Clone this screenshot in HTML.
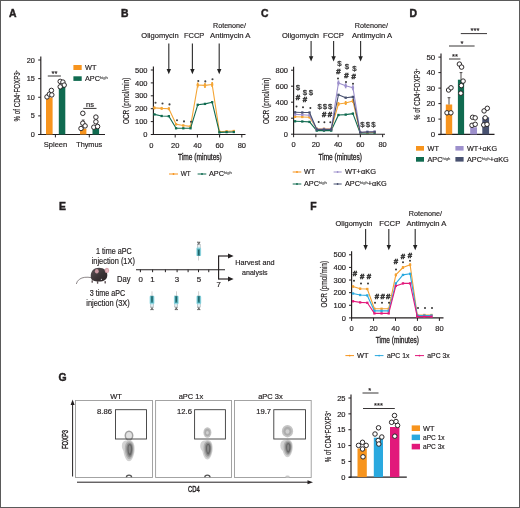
<!DOCTYPE html>
<html><head><meta charset="utf-8"><style>
html,body{margin:0;padding:0;background:#fff;}
body{width:520px;height:508px;overflow:hidden;}
svg{display:block;}
text{font-family:"Liberation Sans", sans-serif;}
</style></head><body>
<svg style="filter:blur(0.25px)" width="520" height="508" viewBox="0 0 520 508" font-family='"Liberation Sans", sans-serif' fill="#231f20">
<rect x="0" y="0" width="520" height="508" fill="#fff"/>
<text x="9.00" y="16.72" font-size="10.4" font-weight="bold" stroke="#231f20" stroke-width="0.45" >A</text>
<line x1="40.80" y1="56.50" x2="40.80" y2="135.00" stroke="#231f20" stroke-width="1.15" />
<line x1="38.20" y1="134.50" x2="40.80" y2="134.50" stroke="#231f20" stroke-width="1" />
<text x="34.80" y="137.11" font-size="7.3" text-anchor="end" stroke="#231f20" stroke-width="0.18" >0</text>
<line x1="38.20" y1="115.88" x2="40.80" y2="115.88" stroke="#231f20" stroke-width="1" />
<text x="34.80" y="118.49" font-size="7.3" text-anchor="end" stroke="#231f20" stroke-width="0.18" >5</text>
<line x1="38.20" y1="97.25" x2="40.80" y2="97.25" stroke="#231f20" stroke-width="1" />
<text x="34.80" y="99.86" font-size="7.3" text-anchor="end" stroke="#231f20" stroke-width="0.18" >10</text>
<line x1="38.20" y1="78.62" x2="40.80" y2="78.62" stroke="#231f20" stroke-width="1" />
<text x="34.80" y="81.24" font-size="7.3" text-anchor="end" stroke="#231f20" stroke-width="0.18" >15</text>
<line x1="38.20" y1="60.00" x2="40.80" y2="60.00" stroke="#231f20" stroke-width="1" />
<text x="34.80" y="62.61" font-size="7.3" text-anchor="end" stroke="#231f20" stroke-width="0.18" >20</text>
<line x1="38.40" y1="134.50" x2="105.00" y2="134.50" stroke="#231f20" stroke-width="1.15" />
<line x1="55.40" y1="134.50" x2="55.40" y2="137.40" stroke="#231f20" stroke-width="1" />
<line x1="89.30" y1="134.50" x2="89.30" y2="137.40" stroke="#231f20" stroke-width="1" />
<text x="17.40" y="98.64" font-size="8.2" text-anchor="middle" textLength="51.50" lengthAdjust="spacingAndGlyphs" stroke="#231f20" stroke-width="0.18" transform="rotate(-90 17.40 95.70)">% of CD4<tspan dy="-2.5" font-size="5">+</tspan><tspan dy="2.5">FOXP3</tspan><tspan dy="-2.5" font-size="5">+</tspan></text>
<rect x="46.00" y="97.50" width="6.60" height="37.00" fill="#f7941d"/>
<rect x="58.80" y="85.00" width="6.50" height="49.50" fill="#106b50"/>
<rect x="80.00" y="128.80" width="6.40" height="5.70" fill="#f7941d"/>
<rect x="92.50" y="128.30" width="6.60" height="6.20" fill="#106b50"/>
<line x1="83.20" y1="120.00" x2="83.20" y2="128.80" stroke="#231f20" stroke-width="0.7" />
<line x1="81.80" y1="120.00" x2="84.60" y2="120.00" stroke="#231f20" stroke-width="0.7" />
<circle cx="47.00" cy="96.90" r="2.25" fill="#fff" stroke="#231f20" stroke-width="0.95"/>
<circle cx="49.40" cy="94.20" r="2.25" fill="#fff" stroke="#231f20" stroke-width="0.95"/>
<circle cx="51.80" cy="94.90" r="2.25" fill="#fff" stroke="#231f20" stroke-width="0.95"/>
<circle cx="51.40" cy="90.40" r="2.25" fill="#fff" stroke="#231f20" stroke-width="0.95"/>
<circle cx="60.20" cy="81.40" r="2.25" fill="#fff" stroke="#231f20" stroke-width="0.95"/>
<circle cx="62.90" cy="82.10" r="2.25" fill="#fff" stroke="#231f20" stroke-width="0.95"/>
<circle cx="64.20" cy="85.10" r="2.25" fill="#fff" stroke="#231f20" stroke-width="0.95"/>
<circle cx="60.20" cy="86.80" r="2.25" fill="#fff" stroke="#231f20" stroke-width="0.95"/>
<circle cx="82.80" cy="113.30" r="2.25" fill="#fff" stroke="#231f20" stroke-width="0.95"/>
<circle cx="82.80" cy="123.20" r="2.25" fill="#fff" stroke="#231f20" stroke-width="0.95"/>
<circle cx="81.00" cy="128.50" r="2.25" fill="#fff" stroke="#231f20" stroke-width="0.95"/>
<circle cx="85.10" cy="125.90" r="2.25" fill="#fff" stroke="#231f20" stroke-width="0.95"/>
<circle cx="95.90" cy="117.10" r="2.25" fill="#fff" stroke="#231f20" stroke-width="0.95"/>
<circle cx="95.90" cy="121.80" r="2.25" fill="#fff" stroke="#231f20" stroke-width="0.95"/>
<circle cx="93.80" cy="127.20" r="2.25" fill="#fff" stroke="#231f20" stroke-width="0.95"/>
<circle cx="97.60" cy="126.50" r="2.25" fill="#fff" stroke="#231f20" stroke-width="0.95"/>
<text x="54.50" y="75.69" font-size="7.5" text-anchor="middle" stroke="#231f20" stroke-width="0.18" >**</text>
<line x1="47.80" y1="76.00" x2="60.90" y2="76.00" stroke="#231f20" stroke-width="0.9" />
<text x="90.00" y="106.98" font-size="7.5" text-anchor="middle" stroke="#231f20" stroke-width="0.18" >ns</text>
<line x1="83.30" y1="108.40" x2="96.50" y2="108.40" stroke="#231f20" stroke-width="0.9" />
<rect x="73.40" y="65.00" width="8.30" height="5.00" fill="#f7941d"/>
<rect x="73.40" y="76.30" width="8.30" height="4.60" fill="#106b50"/>
<text x="85.00" y="70.11" font-size="7.3" stroke="#231f20" stroke-width="0.18" >WT</text>
<text x="85.00" y="81.31" font-size="7.3" stroke="#231f20" stroke-width="0.18" >APC<tspan dy="-2.1" font-size="4.1" fill="#555" stroke="#555">high</tspan></text>
<text x="55.50" y="147.09" font-size="7.8" text-anchor="middle" textLength="23.50" lengthAdjust="spacingAndGlyphs" stroke="#231f20" stroke-width="0.18" >Spleen</text>
<text x="89.20" y="147.09" font-size="7.8" text-anchor="middle" textLength="26.00" lengthAdjust="spacingAndGlyphs" stroke="#231f20" stroke-width="0.18" >Thymus</text>
<text x="121.00" y="17.22" font-size="10.4" font-weight="bold" stroke="#231f20" stroke-width="0.45" >B</text>
<text x="141.30" y="37.56" font-size="7.7" textLength="37.40" lengthAdjust="spacingAndGlyphs" stroke="#231f20" stroke-width="0.18" >Oligomycin</text>
<text x="184.00" y="37.56" font-size="7.7" textLength="20.30" lengthAdjust="spacingAndGlyphs" stroke="#231f20" stroke-width="0.18" >FCCP</text>
<text x="213.00" y="27.56" font-size="7.7" textLength="33.00" lengthAdjust="spacingAndGlyphs" stroke="#231f20" stroke-width="0.18" >Rotenone/</text>
<text x="210.00" y="37.56" font-size="7.7" textLength="40.50" lengthAdjust="spacingAndGlyphs" stroke="#231f20" stroke-width="0.18" >Antimycin A</text>
<line x1="168.80" y1="43.40" x2="168.80" y2="70.30" stroke="#333" stroke-width="1.15" />
<path d="M166.60,69.10 L171.00,69.10 L168.80,74.30 Z" fill="#222"/>
<line x1="192.40" y1="43.40" x2="192.40" y2="70.30" stroke="#333" stroke-width="1.15" />
<path d="M190.20,69.10 L194.60,69.10 L192.40,74.30 Z" fill="#222"/>
<line x1="219.20" y1="43.40" x2="219.20" y2="70.30" stroke="#333" stroke-width="1.15" />
<path d="M217.00,69.10 L221.40,69.10 L219.20,74.30 Z" fill="#222"/>
<line x1="153.40" y1="66.50" x2="153.40" y2="135.00" stroke="#231f20" stroke-width="1.15" />
<line x1="150.80" y1="134.50" x2="153.40" y2="134.50" stroke="#231f20" stroke-width="1" />
<text x="147.50" y="137.19" font-size="7.5" text-anchor="end" stroke="#231f20" stroke-width="0.18" >0</text>
<line x1="150.80" y1="121.60" x2="153.40" y2="121.60" stroke="#231f20" stroke-width="1" />
<text x="147.50" y="124.28" font-size="7.5" text-anchor="end" stroke="#231f20" stroke-width="0.18" >100</text>
<line x1="150.80" y1="108.70" x2="153.40" y2="108.70" stroke="#231f20" stroke-width="1" />
<text x="147.50" y="111.39" font-size="7.5" text-anchor="end" stroke="#231f20" stroke-width="0.18" >200</text>
<line x1="150.80" y1="95.80" x2="153.40" y2="95.80" stroke="#231f20" stroke-width="1" />
<text x="147.50" y="98.48" font-size="7.5" text-anchor="end" stroke="#231f20" stroke-width="0.18" >300</text>
<line x1="150.80" y1="82.90" x2="153.40" y2="82.90" stroke="#231f20" stroke-width="1" />
<text x="147.50" y="85.59" font-size="7.5" text-anchor="end" stroke="#231f20" stroke-width="0.18" >400</text>
<line x1="150.80" y1="70.00" x2="153.40" y2="70.00" stroke="#231f20" stroke-width="1" />
<text x="147.50" y="72.69" font-size="7.5" text-anchor="end" stroke="#231f20" stroke-width="0.18" >500</text>
<line x1="152.90" y1="134.50" x2="245.50" y2="134.50" stroke="#231f20" stroke-width="1.15" />
<line x1="175.20" y1="134.50" x2="175.20" y2="137.50" stroke="#231f20" stroke-width="1" />
<text x="175.20" y="147.69" font-size="7.5" text-anchor="middle" stroke="#231f20" stroke-width="0.18" >20</text>
<line x1="197.40" y1="134.50" x2="197.40" y2="137.50" stroke="#231f20" stroke-width="1" />
<text x="197.40" y="147.69" font-size="7.5" text-anchor="middle" stroke="#231f20" stroke-width="0.18" >40</text>
<line x1="219.60" y1="134.50" x2="219.60" y2="137.50" stroke="#231f20" stroke-width="1" />
<text x="219.60" y="147.69" font-size="7.5" text-anchor="middle" stroke="#231f20" stroke-width="0.18" >60</text>
<line x1="241.80" y1="134.50" x2="241.80" y2="137.50" stroke="#231f20" stroke-width="1" />
<text x="241.80" y="147.69" font-size="7.5" text-anchor="middle" stroke="#231f20" stroke-width="0.18" >80</text>
<text x="151.30" y="147.69" font-size="7.5" text-anchor="middle" stroke="#231f20" stroke-width="0.18" >0</text>
<text x="178.10" y="159.64" font-size="8.69" textLength="43.70" lengthAdjust="spacingAndGlyphs" stroke="#231f20" stroke-width="0.32" >Time (minutes)</text>
<text x="125.30" y="104.17" font-size="9.4" text-anchor="middle" textLength="46.50" lengthAdjust="spacingAndGlyphs" stroke="#231f20" stroke-width="0.18" transform="rotate(-90 125.30 100.80)">OCR (pmol/min)</text>
<line x1="154.44" y1="106.40" x2="154.44" y2="109.40" stroke="#f4a535" stroke-width="1.6"/>
<line x1="161.66" y1="106.90" x2="161.66" y2="109.90" stroke="#f4a535" stroke-width="1.6"/>
<line x1="168.87" y1="107.20" x2="168.87" y2="110.20" stroke="#f4a535" stroke-width="1.6"/>
<line x1="176.09" y1="123.30" x2="176.09" y2="125.30" stroke="#f4a535" stroke-width="1.6"/>
<line x1="183.30" y1="124.50" x2="183.30" y2="126.50" stroke="#f4a535" stroke-width="1.6"/>
<line x1="190.52" y1="125.40" x2="190.52" y2="127.40" stroke="#f4a535" stroke-width="1.6"/>
<line x1="197.73" y1="82.50" x2="197.73" y2="87.50" stroke="#f4a535" stroke-width="1.6"/>
<line x1="204.95" y1="82.90" x2="204.95" y2="87.90" stroke="#f4a535" stroke-width="1.6"/>
<line x1="212.16" y1="82.00" x2="212.16" y2="87.00" stroke="#f4a535" stroke-width="1.6"/>
<polyline points="154.44,107.90 161.66,108.40 168.87,108.70 176.09,124.30 183.30,125.50 190.52,126.40 197.73,85.00 204.95,85.40 212.16,84.50 219.38,131.70 226.59,131.20 233.81,131.00" fill="none" stroke="#f4a535" stroke-width="1.1" stroke-linejoin="round"/>
<rect x="153.29" y="106.75" width="2.30" height="2.30" fill="#f4a535"/>
<rect x="160.51" y="107.25" width="2.30" height="2.30" fill="#f4a535"/>
<rect x="167.72" y="107.55" width="2.30" height="2.30" fill="#f4a535"/>
<rect x="174.94" y="123.15" width="2.30" height="2.30" fill="#f4a535"/>
<rect x="182.15" y="124.35" width="2.30" height="2.30" fill="#f4a535"/>
<rect x="189.37" y="125.25" width="2.30" height="2.30" fill="#f4a535"/>
<rect x="196.58" y="83.85" width="2.30" height="2.30" fill="#f4a535"/>
<rect x="203.80" y="84.25" width="2.30" height="2.30" fill="#f4a535"/>
<rect x="211.01" y="83.35" width="2.30" height="2.30" fill="#f4a535"/>
<rect x="218.23" y="130.55" width="2.30" height="2.30" fill="#f4a535"/>
<rect x="225.44" y="130.05" width="2.30" height="2.30" fill="#f4a535"/>
<rect x="232.66" y="129.85" width="2.30" height="2.30" fill="#f4a535"/>
<polyline points="154.44,114.40 161.66,116.00 168.87,116.20 176.09,128.30 183.30,128.30 190.52,128.30 197.73,104.80 204.95,103.90 212.16,102.20 219.38,132.40 226.59,132.10 233.81,132.00" fill="none" stroke="#106b50" stroke-width="1.1" stroke-linejoin="round"/>
<rect x="153.29" y="113.25" width="2.30" height="2.30" fill="#106b50"/>
<rect x="160.51" y="114.85" width="2.30" height="2.30" fill="#106b50"/>
<rect x="167.72" y="115.05" width="2.30" height="2.30" fill="#106b50"/>
<rect x="174.94" y="127.15" width="2.30" height="2.30" fill="#106b50"/>
<rect x="182.15" y="127.15" width="2.30" height="2.30" fill="#106b50"/>
<rect x="189.37" y="127.15" width="2.30" height="2.30" fill="#106b50"/>
<rect x="196.58" y="103.65" width="2.30" height="2.30" fill="#106b50"/>
<rect x="203.80" y="102.75" width="2.30" height="2.30" fill="#106b50"/>
<rect x="211.01" y="101.05" width="2.30" height="2.30" fill="#106b50"/>
<rect x="218.23" y="131.25" width="2.30" height="2.30" fill="#106b50"/>
<rect x="225.44" y="130.95" width="2.30" height="2.30" fill="#106b50"/>
<rect x="232.66" y="130.85" width="2.30" height="2.30" fill="#106b50"/>
<circle cx="155.50" cy="102.70" r="1.05" fill="#444"/>
<circle cx="162.50" cy="103.50" r="1.05" fill="#444"/>
<circle cx="169.50" cy="104.40" r="1.05" fill="#444"/>
<circle cx="177.00" cy="120.30" r="1.05" fill="#444"/>
<circle cx="184.00" cy="121.40" r="1.05" fill="#444"/>
<circle cx="191.00" cy="121.70" r="1.05" fill="#444"/>
<circle cx="198.30" cy="81.00" r="1.05" fill="#444"/>
<circle cx="205.30" cy="81.40" r="1.05" fill="#444"/>
<circle cx="212.50" cy="79.30" r="1.05" fill="#444"/>
<line x1="169.00" y1="174.00" x2="178.00" y2="174.00" stroke="#f7941d" stroke-width="1" />
<circle cx="173.50" cy="174.00" r="0.9" fill="#f7941d"/>
<text x="180.80" y="176.11" font-size="7.3" textLength="10.00" lengthAdjust="spacingAndGlyphs" stroke="#231f20" stroke-width="0.18" >WT</text>
<line x1="197.60" y1="174.00" x2="206.30" y2="174.00" stroke="#106b50" stroke-width="1" />
<circle cx="202.00" cy="174.00" r="0.9" fill="#106b50"/>
<text x="209.00" y="176.11" font-size="7.3" stroke="#231f20" stroke-width="0.18" >APC<tspan dy="-2.1" font-size="4.1" fill="#555" stroke="#555">high</tspan></text>
<text x="261.00" y="17.22" font-size="10.4" font-weight="bold" stroke="#231f20" stroke-width="0.45" >C</text>
<text x="281.90" y="37.56" font-size="7.7" textLength="37.10" lengthAdjust="spacingAndGlyphs" stroke="#231f20" stroke-width="0.18" >Oligomycin</text>
<text x="323.00" y="37.56" font-size="7.7" textLength="21.00" lengthAdjust="spacingAndGlyphs" stroke="#231f20" stroke-width="0.18" >FCCP</text>
<text x="354.80" y="27.56" font-size="7.7" textLength="33.20" lengthAdjust="spacingAndGlyphs" stroke="#231f20" stroke-width="0.18" >Rotenone/</text>
<text x="352.00" y="37.56" font-size="7.7" textLength="40.00" lengthAdjust="spacingAndGlyphs" stroke="#231f20" stroke-width="0.18" >Antimycin A</text>
<line x1="311.10" y1="41.00" x2="311.10" y2="57.40" stroke="#333" stroke-width="1.15" />
<path d="M308.90,56.20 L313.30,56.20 L311.10,61.40 Z" fill="#222"/>
<line x1="333.60" y1="41.00" x2="333.60" y2="57.40" stroke="#333" stroke-width="1.15" />
<path d="M331.40,56.20 L335.80,56.20 L333.60,61.40 Z" fill="#222"/>
<line x1="360.60" y1="41.00" x2="360.60" y2="57.40" stroke="#333" stroke-width="1.15" />
<path d="M358.40,56.20 L362.80,56.20 L360.60,61.40 Z" fill="#222"/>
<line x1="293.60" y1="66.70" x2="293.60" y2="134.70" stroke="#231f20" stroke-width="1.15" />
<line x1="291.00" y1="134.20" x2="293.60" y2="134.20" stroke="#231f20" stroke-width="1" />
<text x="288.00" y="136.88" font-size="7.5" text-anchor="end" stroke="#231f20" stroke-width="0.18" >0</text>
<line x1="291.00" y1="118.20" x2="293.60" y2="118.20" stroke="#231f20" stroke-width="1" />
<text x="288.00" y="120.88" font-size="7.5" text-anchor="end" stroke="#231f20" stroke-width="0.18" >200</text>
<line x1="291.00" y1="102.20" x2="293.60" y2="102.20" stroke="#231f20" stroke-width="1" />
<text x="288.00" y="104.88" font-size="7.5" text-anchor="end" stroke="#231f20" stroke-width="0.18" >400</text>
<line x1="291.00" y1="86.20" x2="293.60" y2="86.20" stroke="#231f20" stroke-width="1" />
<text x="288.00" y="88.88" font-size="7.5" text-anchor="end" stroke="#231f20" stroke-width="0.18" >600</text>
<line x1="291.00" y1="70.20" x2="293.60" y2="70.20" stroke="#231f20" stroke-width="1" />
<text x="288.00" y="72.88" font-size="7.5" text-anchor="end" stroke="#231f20" stroke-width="0.18" >800</text>
<line x1="293.10" y1="134.20" x2="385.00" y2="134.20" stroke="#231f20" stroke-width="1.15" />
<line x1="293.60" y1="134.20" x2="293.60" y2="137.20" stroke="#231f20" stroke-width="1" />
<text x="293.60" y="147.19" font-size="7.5" text-anchor="middle" stroke="#231f20" stroke-width="0.18" >0</text>
<line x1="315.86" y1="134.20" x2="315.86" y2="137.20" stroke="#231f20" stroke-width="1" />
<text x="315.86" y="147.19" font-size="7.5" text-anchor="middle" stroke="#231f20" stroke-width="0.18" >20</text>
<line x1="338.12" y1="134.20" x2="338.12" y2="137.20" stroke="#231f20" stroke-width="1" />
<text x="338.12" y="147.19" font-size="7.5" text-anchor="middle" stroke="#231f20" stroke-width="0.18" >40</text>
<line x1="360.38" y1="134.20" x2="360.38" y2="137.20" stroke="#231f20" stroke-width="1" />
<text x="360.38" y="147.19" font-size="7.5" text-anchor="middle" stroke="#231f20" stroke-width="0.18" >60</text>
<line x1="382.64" y1="134.20" x2="382.64" y2="137.20" stroke="#231f20" stroke-width="1" />
<text x="382.64" y="147.19" font-size="7.5" text-anchor="middle" stroke="#231f20" stroke-width="0.18" >80</text>
<text x="318.40" y="159.94" font-size="8.69" textLength="43.60" lengthAdjust="spacingAndGlyphs" stroke="#231f20" stroke-width="0.32" >Time (minutes)</text>
<text x="265.50" y="104.17" font-size="9.4" text-anchor="middle" textLength="46.50" lengthAdjust="spacingAndGlyphs" stroke="#231f20" stroke-width="0.18" transform="rotate(-90 265.50 100.80)">OCR (pmol/min)</text>
<polyline points="295.05,121.30 302.28,121.50 309.52,121.90 316.75,130.60 323.98,130.60 331.22,130.60 338.45,115.00 345.69,114.60 352.92,113.60 360.16,133.00 367.39,133.00 374.63,132.80" fill="none" stroke="#106b50" stroke-width="1.1" stroke-linejoin="round"/>
<rect x="293.90" y="120.15" width="2.30" height="2.30" fill="#106b50"/>
<rect x="301.13" y="120.35" width="2.30" height="2.30" fill="#106b50"/>
<rect x="308.37" y="120.75" width="2.30" height="2.30" fill="#106b50"/>
<rect x="315.60" y="129.45" width="2.30" height="2.30" fill="#106b50"/>
<rect x="322.83" y="129.45" width="2.30" height="2.30" fill="#106b50"/>
<rect x="330.07" y="129.45" width="2.30" height="2.30" fill="#106b50"/>
<rect x="337.30" y="113.85" width="2.30" height="2.30" fill="#106b50"/>
<rect x="344.54" y="113.45" width="2.30" height="2.30" fill="#106b50"/>
<rect x="351.77" y="112.45" width="2.30" height="2.30" fill="#106b50"/>
<rect x="359.01" y="131.85" width="2.30" height="2.30" fill="#106b50"/>
<rect x="366.24" y="131.85" width="2.30" height="2.30" fill="#106b50"/>
<rect x="373.48" y="131.65" width="2.30" height="2.30" fill="#106b50"/>
<line x1="295.05" y1="115.80" x2="295.05" y2="117.80" stroke="#f4a535" stroke-width="1.6"/>
<line x1="302.28" y1="116.00" x2="302.28" y2="118.00" stroke="#f4a535" stroke-width="1.6"/>
<line x1="309.52" y1="116.30" x2="309.52" y2="118.30" stroke="#f4a535" stroke-width="1.6"/>
<line x1="338.45" y1="102.00" x2="338.45" y2="106.00" stroke="#f4a535" stroke-width="1.6"/>
<line x1="345.69" y1="101.00" x2="345.69" y2="105.00" stroke="#f4a535" stroke-width="1.6"/>
<line x1="352.92" y1="99.00" x2="352.92" y2="103.00" stroke="#f4a535" stroke-width="1.6"/>
<polyline points="295.05,116.80 302.28,117.00 309.52,117.30 316.75,128.70 323.98,128.70 331.22,128.70 338.45,104.00 345.69,103.00 352.92,101.00 360.16,132.50 367.39,132.30 374.63,132.00" fill="none" stroke="#f4a535" stroke-width="1.1" stroke-linejoin="round"/>
<rect x="293.90" y="115.65" width="2.30" height="2.30" fill="#f4a535"/>
<rect x="301.13" y="115.85" width="2.30" height="2.30" fill="#f4a535"/>
<rect x="308.37" y="116.15" width="2.30" height="2.30" fill="#f4a535"/>
<rect x="315.60" y="127.55" width="2.30" height="2.30" fill="#f4a535"/>
<rect x="322.83" y="127.55" width="2.30" height="2.30" fill="#f4a535"/>
<rect x="330.07" y="127.55" width="2.30" height="2.30" fill="#f4a535"/>
<rect x="337.30" y="102.85" width="2.30" height="2.30" fill="#f4a535"/>
<rect x="344.54" y="101.85" width="2.30" height="2.30" fill="#f4a535"/>
<rect x="351.77" y="99.85" width="2.30" height="2.30" fill="#f4a535"/>
<rect x="359.01" y="131.35" width="2.30" height="2.30" fill="#f4a535"/>
<rect x="366.24" y="131.15" width="2.30" height="2.30" fill="#f4a535"/>
<rect x="373.48" y="130.85" width="2.30" height="2.30" fill="#f4a535"/>
<line x1="295.05" y1="113.40" x2="295.05" y2="115.40" stroke="#9d90cc" stroke-width="1.6"/>
<line x1="302.28" y1="113.80" x2="302.28" y2="115.80" stroke="#9d90cc" stroke-width="1.6"/>
<line x1="309.52" y1="114.30" x2="309.52" y2="116.30" stroke="#9d90cc" stroke-width="1.6"/>
<line x1="338.45" y1="80.40" x2="338.45" y2="85.40" stroke="#9d90cc" stroke-width="1.6"/>
<line x1="345.69" y1="83.30" x2="345.69" y2="88.30" stroke="#9d90cc" stroke-width="1.6"/>
<line x1="352.92" y1="85.20" x2="352.92" y2="90.20" stroke="#9d90cc" stroke-width="1.6"/>
<polyline points="295.05,114.40 302.28,114.80 309.52,115.30 316.75,129.00 323.98,129.00 331.22,129.00 338.45,82.90 345.69,85.80 352.92,87.70 360.16,132.20 367.39,131.80 374.63,131.50" fill="none" stroke="#9d90cc" stroke-width="1.1" stroke-linejoin="round"/>
<rect x="293.90" y="113.25" width="2.30" height="2.30" fill="#9d90cc"/>
<rect x="301.13" y="113.65" width="2.30" height="2.30" fill="#9d90cc"/>
<rect x="308.37" y="114.15" width="2.30" height="2.30" fill="#9d90cc"/>
<rect x="315.60" y="127.85" width="2.30" height="2.30" fill="#9d90cc"/>
<rect x="322.83" y="127.85" width="2.30" height="2.30" fill="#9d90cc"/>
<rect x="330.07" y="127.85" width="2.30" height="2.30" fill="#9d90cc"/>
<rect x="337.30" y="81.75" width="2.30" height="2.30" fill="#9d90cc"/>
<rect x="344.54" y="84.65" width="2.30" height="2.30" fill="#9d90cc"/>
<rect x="351.77" y="86.55" width="2.30" height="2.30" fill="#9d90cc"/>
<rect x="359.01" y="131.05" width="2.30" height="2.30" fill="#9d90cc"/>
<rect x="366.24" y="130.65" width="2.30" height="2.30" fill="#9d90cc"/>
<rect x="373.48" y="130.35" width="2.30" height="2.30" fill="#9d90cc"/>
<polyline points="295.05,112.30 302.28,112.50 309.52,112.50 316.75,129.50 323.98,129.50 331.22,129.50 338.45,94.80 345.69,97.70 352.92,96.90 360.16,132.50 367.39,132.00 374.63,132.00" fill="none" stroke="#485170" stroke-width="1.1" stroke-linejoin="round"/>
<rect x="293.90" y="111.15" width="2.30" height="2.30" fill="#485170"/>
<rect x="301.13" y="111.35" width="2.30" height="2.30" fill="#485170"/>
<rect x="308.37" y="111.35" width="2.30" height="2.30" fill="#485170"/>
<rect x="315.60" y="128.35" width="2.30" height="2.30" fill="#485170"/>
<rect x="322.83" y="128.35" width="2.30" height="2.30" fill="#485170"/>
<rect x="330.07" y="128.35" width="2.30" height="2.30" fill="#485170"/>
<rect x="337.30" y="93.65" width="2.30" height="2.30" fill="#485170"/>
<rect x="344.54" y="96.55" width="2.30" height="2.30" fill="#485170"/>
<rect x="351.77" y="95.75" width="2.30" height="2.30" fill="#485170"/>
<rect x="359.01" y="131.35" width="2.30" height="2.30" fill="#485170"/>
<rect x="366.24" y="130.85" width="2.30" height="2.30" fill="#485170"/>
<rect x="373.48" y="130.85" width="2.30" height="2.30" fill="#485170"/>
<text x="298.00" y="90.49" font-size="7.8" text-anchor="middle" fill="#3c3c3c" stroke="#3c3c3c" stroke-width="0.3">$</text>
<text x="305.00" y="94.79" font-size="7.8" text-anchor="middle" fill="#3c3c3c" stroke="#3c3c3c" stroke-width="0.3">$</text>
<text x="310.80" y="94.79" font-size="7.8" text-anchor="middle" fill="#3c3c3c" stroke="#3c3c3c" stroke-width="0.3">$</text>
<text x="298.00" y="100.49" font-size="7.8" font-weight="bold" text-anchor="middle" fill="#3c3c3c" stroke="#3c3c3c" stroke-width="0.6">#</text>
<text x="305.00" y="102.39" font-size="7.8" font-weight="bold" text-anchor="middle" fill="#3c3c3c" stroke="#3c3c3c" stroke-width="0.6">#</text>
<circle cx="296.50" cy="106.50" r="1.0" fill="#333"/>
<circle cx="303.00" cy="107.20" r="1.0" fill="#333"/>
<circle cx="310.40" cy="107.90" r="1.0" fill="#333"/>
<text x="319.60" y="108.79" font-size="7.8" text-anchor="middle" fill="#3c3c3c" stroke="#3c3c3c" stroke-width="0.3">$</text>
<text x="324.90" y="108.79" font-size="7.8" text-anchor="middle" fill="#3c3c3c" stroke="#3c3c3c" stroke-width="0.3">$</text>
<text x="330.20" y="108.79" font-size="7.8" text-anchor="middle" fill="#3c3c3c" stroke="#3c3c3c" stroke-width="0.3">$</text>
<text x="324.10" y="116.99" font-size="7.8" font-weight="bold" text-anchor="middle" fill="#3c3c3c" stroke="#3c3c3c" stroke-width="0.6">#</text>
<text x="329.90" y="116.99" font-size="7.8" font-weight="bold" text-anchor="middle" fill="#3c3c3c" stroke="#3c3c3c" stroke-width="0.6">#</text>
<circle cx="318.70" cy="121.90" r="1.0" fill="#333"/>
<circle cx="324.40" cy="122.30" r="1.0" fill="#333"/>
<circle cx="330.30" cy="122.30" r="1.0" fill="#333"/>
<text x="339.40" y="65.99" font-size="7.8" text-anchor="middle" fill="#3c3c3c" stroke="#3c3c3c" stroke-width="0.3">$</text>
<text x="347.00" y="68.89" font-size="7.8" text-anchor="middle" fill="#3c3c3c" stroke="#3c3c3c" stroke-width="0.3">$</text>
<text x="354.30" y="71.29" font-size="7.8" text-anchor="middle" fill="#3c3c3c" stroke="#3c3c3c" stroke-width="0.3">$</text>
<text x="338.50" y="74.09" font-size="7.8" font-weight="bold" text-anchor="middle" fill="#3c3c3c" stroke="#3c3c3c" stroke-width="0.6">#</text>
<text x="346.50" y="77.79" font-size="7.8" font-weight="bold" text-anchor="middle" fill="#3c3c3c" stroke="#3c3c3c" stroke-width="0.6">#</text>
<text x="353.70" y="79.29" font-size="7.8" font-weight="bold" text-anchor="middle" fill="#3c3c3c" stroke="#3c3c3c" stroke-width="0.6">#</text>
<circle cx="338.00" cy="78.50" r="1.0" fill="#333"/>
<circle cx="346.00" cy="82.00" r="1.0" fill="#333"/>
<circle cx="353.00" cy="83.80" r="1.0" fill="#333"/>
<text x="362.30" y="127.09" font-size="7.8" text-anchor="middle" fill="#3c3c3c" stroke="#3c3c3c" stroke-width="0.3">$</text>
<text x="367.90" y="127.09" font-size="7.8" text-anchor="middle" fill="#3c3c3c" stroke="#3c3c3c" stroke-width="0.3">$</text>
<text x="373.50" y="127.09" font-size="7.8" text-anchor="middle" fill="#3c3c3c" stroke="#3c3c3c" stroke-width="0.3">$</text>
<line x1="292.70" y1="172.00" x2="301.30" y2="172.00" stroke="#f7941d" stroke-width="1" />
<circle cx="297.00" cy="172.00" r="0.9" fill="#f7941d"/>
<text x="304.00" y="174.11" font-size="7.3" textLength="11.00" lengthAdjust="spacingAndGlyphs" stroke="#231f20" stroke-width="0.18" >WT</text>
<line x1="333.60" y1="172.00" x2="341.70" y2="172.00" stroke="#9d90cc" stroke-width="1" />
<circle cx="337.60" cy="172.00" r="0.9" fill="#9d90cc"/>
<text x="345.00" y="174.11" font-size="7.3" textLength="31.00" lengthAdjust="spacingAndGlyphs" stroke="#231f20" stroke-width="0.18" >WT+αKG</text>
<line x1="292.70" y1="184.00" x2="301.30" y2="184.00" stroke="#106b50" stroke-width="1" />
<circle cx="297.00" cy="184.00" r="0.9" fill="#106b50"/>
<text x="304.00" y="186.11" font-size="7.3" stroke="#231f20" stroke-width="0.18" >APC<tspan dy="-2.1" font-size="4.1" fill="#555" stroke="#555">high</tspan></text>
<line x1="333.60" y1="184.00" x2="341.70" y2="184.00" stroke="#485170" stroke-width="1" />
<circle cx="337.60" cy="184.00" r="0.9" fill="#485170"/>
<text x="345.00" y="186.11" font-size="7.3" stroke="#231f20" stroke-width="0.18" >APC<tspan dy="-2.1" font-size="4.1" fill="#555" stroke="#555">high</tspan><tspan dy="2.2">+αKG</tspan></text>
<text x="409.50" y="17.22" font-size="10.4" font-weight="bold" stroke="#231f20" stroke-width="0.45" >D</text>
<line x1="441.00" y1="53.60" x2="441.00" y2="135.10" stroke="#231f20" stroke-width="1.15" />
<line x1="438.40" y1="134.60" x2="441.00" y2="134.60" stroke="#231f20" stroke-width="1" />
<text x="435.20" y="137.43" font-size="7.9" text-anchor="end" stroke="#231f20" stroke-width="0.18" >0</text>
<line x1="438.40" y1="119.10" x2="441.00" y2="119.10" stroke="#231f20" stroke-width="1" />
<text x="435.20" y="121.93" font-size="7.9" text-anchor="end" stroke="#231f20" stroke-width="0.18" >10</text>
<line x1="438.40" y1="103.60" x2="441.00" y2="103.60" stroke="#231f20" stroke-width="1" />
<text x="435.20" y="106.43" font-size="7.9" text-anchor="end" stroke="#231f20" stroke-width="0.18" >20</text>
<line x1="438.40" y1="88.10" x2="441.00" y2="88.10" stroke="#231f20" stroke-width="1" />
<text x="435.20" y="90.93" font-size="7.9" text-anchor="end" stroke="#231f20" stroke-width="0.18" >30</text>
<line x1="438.40" y1="72.60" x2="441.00" y2="72.60" stroke="#231f20" stroke-width="1" />
<text x="435.20" y="75.43" font-size="7.9" text-anchor="end" stroke="#231f20" stroke-width="0.18" >40</text>
<line x1="438.40" y1="57.10" x2="441.00" y2="57.10" stroke="#231f20" stroke-width="1" />
<text x="435.20" y="59.93" font-size="7.9" text-anchor="end" stroke="#231f20" stroke-width="0.18" >50</text>
<line x1="438.30" y1="134.40" x2="494.50" y2="134.40" stroke="#231f20" stroke-width="1.15" />
<text x="417.30" y="97.24" font-size="8.2" text-anchor="middle" textLength="51.50" lengthAdjust="spacingAndGlyphs" stroke="#231f20" stroke-width="0.18" transform="rotate(-90 417.30 94.30)">% of CD4<tspan dy="-2.5" font-size="5">+</tspan><tspan dy="2.5">FOXP3</tspan><tspan dy="-2.5" font-size="5">+</tspan></text>
<rect x="445.80" y="104.50" width="6.40" height="29.90" fill="#f7941d"/>
<rect x="457.90" y="79.70" width="6.20" height="54.70" fill="#106b50"/>
<rect x="470.20" y="127.30" width="6.80" height="7.10" fill="#9d90cc"/>
<rect x="482.30" y="117.30" width="6.80" height="17.10" fill="#485170"/>
<line x1="449.00" y1="97.70" x2="449.00" y2="104.50" stroke="#231f20" stroke-width="0.8" />
<line x1="447.60" y1="97.70" x2="450.40" y2="97.70" stroke="#231f20" stroke-width="0.8" />
<line x1="461.00" y1="72.60" x2="461.00" y2="79.70" stroke="#231f20" stroke-width="0.8" />
<line x1="459.60" y1="72.60" x2="462.40" y2="72.60" stroke="#231f20" stroke-width="0.8" />
<circle cx="448.60" cy="90.00" r="2.25" fill="#fff" stroke="#231f20" stroke-width="0.95"/>
<circle cx="451.00" cy="87.80" r="2.25" fill="#fff" stroke="#231f20" stroke-width="0.95"/>
<circle cx="447.00" cy="112.80" r="2.25" fill="#fff" stroke="#231f20" stroke-width="0.95"/>
<circle cx="450.90" cy="112.80" r="2.25" fill="#fff" stroke="#231f20" stroke-width="0.95"/>
<circle cx="459.40" cy="64.10" r="2.25" fill="#fff" stroke="#231f20" stroke-width="0.95"/>
<circle cx="461.60" cy="67.10" r="2.25" fill="#fff" stroke="#231f20" stroke-width="0.95"/>
<circle cx="463.10" cy="81.10" r="2.25" fill="#fff" stroke="#231f20" stroke-width="0.95"/>
<circle cx="461.30" cy="85.60" r="2.25" fill="#fff" stroke="#231f20" stroke-width="0.95"/>
<circle cx="460.80" cy="93.20" r="2.25" fill="#fff" stroke="#231f20" stroke-width="0.95"/>
<circle cx="472.60" cy="117.30" r="2.25" fill="#fff" stroke="#231f20" stroke-width="0.95"/>
<circle cx="475.20" cy="117.90" r="2.25" fill="#fff" stroke="#231f20" stroke-width="0.95"/>
<circle cx="472.00" cy="125.30" r="2.25" fill="#fff" stroke="#231f20" stroke-width="0.95"/>
<circle cx="475.20" cy="124.30" r="2.25" fill="#fff" stroke="#231f20" stroke-width="0.95"/>
<circle cx="484.10" cy="110.90" r="2.25" fill="#fff" stroke="#231f20" stroke-width="0.95"/>
<circle cx="487.30" cy="108.30" r="2.25" fill="#fff" stroke="#231f20" stroke-width="0.95"/>
<circle cx="485.20" cy="117.80" r="2.25" fill="#fff" stroke="#231f20" stroke-width="0.95"/>
<circle cx="483.70" cy="124.90" r="2.25" fill="#fff" stroke="#231f20" stroke-width="0.95"/>
<circle cx="487.00" cy="124.30" r="2.25" fill="#fff" stroke="#231f20" stroke-width="0.95"/>
<text x="455.00" y="58.69" font-size="7.5" text-anchor="middle" stroke="#231f20" stroke-width="0.18" >**</text>
<line x1="449.00" y1="59.00" x2="460.40" y2="59.00" stroke="#231f20" stroke-width="0.9" />
<text x="461.90" y="45.69" font-size="7.5" text-anchor="middle" stroke="#231f20" stroke-width="0.18" >*</text>
<line x1="449.00" y1="46.00" x2="474.60" y2="46.00" stroke="#231f20" stroke-width="0.9" />
<text x="475.00" y="33.38" font-size="7.5" text-anchor="middle" stroke="#231f20" stroke-width="0.18" >***</text>
<line x1="460.80" y1="33.60" x2="487.00" y2="33.60" stroke="#231f20" stroke-width="0.9" />
<rect x="416.00" y="146.00" width="8.00" height="4.70" fill="#f7941d"/>
<text x="427.50" y="150.91" font-size="7.3" stroke="#231f20" stroke-width="0.18" >WT</text>
<rect x="455.40" y="146.00" width="8.20" height="4.60" fill="#9d90cc"/>
<text x="467.00" y="150.91" font-size="7.3" textLength="30.00" lengthAdjust="spacingAndGlyphs" stroke="#231f20" stroke-width="0.18" >WT+αKG</text>
<rect x="416.00" y="157.00" width="8.00" height="4.70" fill="#106b50"/>
<text x="427.50" y="161.91" font-size="7.3" stroke="#231f20" stroke-width="0.18" >APC<tspan dy="-2.1" font-size="4.1" fill="#555" stroke="#555">high</tspan></text>
<rect x="455.40" y="157.00" width="8.20" height="4.60" fill="#485170"/>
<text x="467.00" y="161.91" font-size="7.3" stroke="#231f20" stroke-width="0.18" >APC<tspan dy="-2.1" font-size="4.1" fill="#555" stroke="#555">high</tspan><tspan dy="2.2">+αKG</tspan></text>
<text x="59.00" y="210.22" font-size="10.4" font-weight="bold" stroke="#231f20" stroke-width="0.45" >E</text>
<text x="113.90" y="254.29" font-size="8.19" text-anchor="middle" textLength="35.60" lengthAdjust="spacingAndGlyphs" stroke="#231f20" stroke-width="0.18" >1 time aPC</text>
<text x="113.30" y="263.99" font-size="8.19" text-anchor="middle" textLength="43.20" lengthAdjust="spacingAndGlyphs" stroke="#231f20" stroke-width="0.18" >injection (1X)</text>
<text x="107.50" y="296.29" font-size="8.19" text-anchor="middle" textLength="35.50" lengthAdjust="spacingAndGlyphs" stroke="#231f20" stroke-width="0.18" >3 time aPC</text>
<text x="108.00" y="306.29" font-size="8.19" text-anchor="middle" textLength="43.50" lengthAdjust="spacingAndGlyphs" stroke="#231f20" stroke-width="0.18" >injection (3X)</text>
<text x="117.00" y="282.29" font-size="8.19" textLength="13.50" lengthAdjust="spacingAndGlyphs" stroke="#231f20" stroke-width="0.18" >Day</text>
<line x1="136.00" y1="269.70" x2="225.00" y2="269.70" stroke="#231f20" stroke-width="1.1" />
<line x1="140.40" y1="269.60" x2="140.40" y2="272.20" stroke="#231f20" stroke-width="1" />
<line x1="152.60" y1="269.60" x2="152.60" y2="272.20" stroke="#231f20" stroke-width="1" />
<line x1="165.40" y1="269.60" x2="165.40" y2="272.20" stroke="#231f20" stroke-width="1" />
<line x1="177.10" y1="269.60" x2="177.10" y2="272.20" stroke="#231f20" stroke-width="1" />
<line x1="188.10" y1="269.60" x2="188.10" y2="272.20" stroke="#231f20" stroke-width="1" />
<line x1="198.50" y1="269.60" x2="198.50" y2="272.20" stroke="#231f20" stroke-width="1" />
<line x1="208.75" y1="269.60" x2="208.75" y2="272.20" stroke="#231f20" stroke-width="1" />
<text x="140.60" y="282.43" font-size="7.9" text-anchor="middle" stroke="#231f20" stroke-width="0.18" >0</text>
<text x="152.50" y="282.43" font-size="7.9" text-anchor="middle" stroke="#231f20" stroke-width="0.18" >1</text>
<text x="176.90" y="282.43" font-size="7.9" text-anchor="middle" stroke="#231f20" stroke-width="0.18" >3</text>
<text x="199.00" y="282.43" font-size="7.9" text-anchor="middle" stroke="#231f20" stroke-width="0.18" >5</text>
<text x="218.80" y="287.43" font-size="7.9" text-anchor="middle" stroke="#231f20" stroke-width="0.18" >7</text>
<line x1="218.60" y1="255.40" x2="218.60" y2="279.60" stroke="#231f20" stroke-width="1.15" />
<line x1="218.60" y1="256.00" x2="229.00" y2="256.00" stroke="#231f20" stroke-width="1.15" />
<path d="M228,253.6 L233.6,256 L228,258.4 Z" fill="#231f20"/>
<line x1="218.60" y1="279.00" x2="229.00" y2="279.00" stroke="#231f20" stroke-width="1.15" />
<path d="M228,276.6 L233.6,279 L228,281.4 Z" fill="#231f20"/>
<text x="254.90" y="265.22" font-size="7.98" text-anchor="middle" textLength="39.40" lengthAdjust="spacingAndGlyphs" stroke="#231f20" stroke-width="0.18" >Harvest and</text>
<text x="254.80" y="274.99" font-size="7.88" text-anchor="middle" textLength="25.50" lengthAdjust="spacingAndGlyphs" stroke="#231f20" stroke-width="0.18" >analysis</text>
<defs><linearGradient id="mg" x1="0" y1="0" x2="1" y2="1"><stop offset="0" stop-color="#5e5558"/><stop offset="0.55" stop-color="#3b3335"/><stop offset="1" stop-color="#2b2325"/></linearGradient></defs>
<path d="M91.2,277.6 Q84,276.2 79.5,279.2 Q77,281 76.4,283.6" fill="none" stroke="#6e6769" stroke-width="0.8" stroke-linecap="round"/>
<rect x="91.5" y="280.2" width="1.4" height="2.6" rx="0.5" fill="#5e5155"/>
<rect x="96.9" y="281.2" width="1.4" height="2.6" rx="0.5" fill="#5e5155"/>
<rect x="104.5" y="281.0" width="1.4" height="2.6" rx="0.5" fill="#5e5155"/>
<path d="M90.8,277 C90.4,271 94,267.8 99,267.8 C104,267.8 107.6,271 107.3,275.5 C107,279.6 104,281.6 99,281.6 C94.5,281.6 91,280.5 90.8,277 Z" fill="url(#mg)"/>
<ellipse cx="96.8" cy="271.2" rx="1.9" ry="2.2" fill="#c996a0"/>
<ellipse cx="106.9" cy="270.4" rx="2.2" ry="2.6" fill="#d49ea8"/>
<ellipse cx="107.1" cy="270.6" rx="1.2" ry="1.6" fill="#e6b8c0"/>
<circle cx="101.4" cy="279.3" r="0.65" fill="#d8d8d8"/>
<g transform="translate(198.7,242)"><path d="M-1.6,0.2 L1.6,0.2 M-1.3,0.2 L1.3,2.2 M1.3,0.2 L-1.3,2.2" stroke="#444" stroke-width="0.7" fill="none"/><rect x="-0.4" y="1.8" width="0.8" height="1.6" fill="#666"/><rect x="-1.5" y="2.8" width="3" height="11" fill="#e4ecef" stroke="#7d8a8f" stroke-width="0.35"/><rect x="-2.4" y="5.5" width="4.8" height="8.6" rx="1.2" fill="#74d0de" opacity="0.75"/><rect x="-1.3" y="6.8" width="2.6" height="7" fill="#3f9aa3"/><rect x="-0.6" y="8" width="1.2" height="5.4" fill="#1f5e62"/><rect x="-0.25" y="13.8" width="0.5" height="4.7" fill="#a0a0a0"/></g>
<g transform="translate(152,291.3) translate(0,18.5) scale(1,-1)"><path d="M-1.6,0.2 L1.6,0.2 M-1.3,0.2 L1.3,2.2 M1.3,0.2 L-1.3,2.2" stroke="#444" stroke-width="0.7" fill="none"/><rect x="-0.4" y="1.8" width="0.8" height="1.6" fill="#666"/><rect x="-1.5" y="2.8" width="3" height="11" fill="#e4ecef" stroke="#7d8a8f" stroke-width="0.35"/><rect x="-2.4" y="5.5" width="4.8" height="8.6" rx="1.2" fill="#74d0de" opacity="0.75"/><rect x="-1.3" y="6.8" width="2.6" height="7" fill="#3f9aa3"/><rect x="-0.6" y="8" width="1.2" height="5.4" fill="#1f5e62"/><rect x="-0.25" y="13.8" width="0.5" height="4.7" fill="#a0a0a0"/></g>
<g transform="translate(176.3,291.3) translate(0,18.5) scale(1,-1)"><path d="M-1.6,0.2 L1.6,0.2 M-1.3,0.2 L1.3,2.2 M1.3,0.2 L-1.3,2.2" stroke="#444" stroke-width="0.7" fill="none"/><rect x="-0.4" y="1.8" width="0.8" height="1.6" fill="#666"/><rect x="-1.5" y="2.8" width="3" height="11" fill="#e4ecef" stroke="#7d8a8f" stroke-width="0.35"/><rect x="-2.4" y="5.5" width="4.8" height="8.6" rx="1.2" fill="#74d0de" opacity="0.75"/><rect x="-1.3" y="6.8" width="2.6" height="7" fill="#3f9aa3"/><rect x="-0.6" y="8" width="1.2" height="5.4" fill="#1f5e62"/><rect x="-0.25" y="13.8" width="0.5" height="4.7" fill="#a0a0a0"/></g>
<g transform="translate(198.8,291.3) translate(0,18.5) scale(1,-1)"><path d="M-1.6,0.2 L1.6,0.2 M-1.3,0.2 L1.3,2.2 M1.3,0.2 L-1.3,2.2" stroke="#444" stroke-width="0.7" fill="none"/><rect x="-0.4" y="1.8" width="0.8" height="1.6" fill="#666"/><rect x="-1.5" y="2.8" width="3" height="11" fill="#e4ecef" stroke="#7d8a8f" stroke-width="0.35"/><rect x="-2.4" y="5.5" width="4.8" height="8.6" rx="1.2" fill="#74d0de" opacity="0.75"/><rect x="-1.3" y="6.8" width="2.6" height="7" fill="#3f9aa3"/><rect x="-0.6" y="8" width="1.2" height="5.4" fill="#1f5e62"/><rect x="-0.25" y="13.8" width="0.5" height="4.7" fill="#a0a0a0"/></g>
<text x="310.30" y="209.72" font-size="10.4" font-weight="bold" stroke="#231f20" stroke-width="0.45" >F</text>
<text x="335.50" y="226.06" font-size="7.7" textLength="36.80" lengthAdjust="spacingAndGlyphs" stroke="#231f20" stroke-width="0.18" >Oligomycin</text>
<text x="379.30" y="226.06" font-size="7.7" textLength="21.00" lengthAdjust="spacingAndGlyphs" stroke="#231f20" stroke-width="0.18" >FCCP</text>
<text x="408.70" y="215.76" font-size="7.7" textLength="33.20" lengthAdjust="spacingAndGlyphs" stroke="#231f20" stroke-width="0.18" >Rotenone/</text>
<text x="406.40" y="226.06" font-size="7.7" textLength="40.00" lengthAdjust="spacingAndGlyphs" stroke="#231f20" stroke-width="0.18" >Antimycin A</text>
<line x1="365.60" y1="229.00" x2="365.60" y2="246.30" stroke="#333" stroke-width="1.15" />
<path d="M363.40,245.10 L367.80,245.10 L365.60,250.30 Z" fill="#222"/>
<line x1="388.80" y1="229.00" x2="388.80" y2="246.30" stroke="#333" stroke-width="1.15" />
<path d="M386.60,245.10 L391.00,245.10 L388.80,250.30 Z" fill="#222"/>
<line x1="415.20" y1="229.00" x2="415.20" y2="246.30" stroke="#333" stroke-width="1.15" />
<path d="M413.00,245.10 L417.40,245.10 L415.20,250.30 Z" fill="#222"/>
<line x1="351.60" y1="251.30" x2="351.60" y2="318.40" stroke="#231f20" stroke-width="1.15" />
<line x1="349.00" y1="317.90" x2="351.60" y2="317.90" stroke="#231f20" stroke-width="1" />
<text x="346.00" y="320.58" font-size="7.5" text-anchor="end" stroke="#231f20" stroke-width="0.18" >0</text>
<line x1="349.00" y1="305.28" x2="351.60" y2="305.28" stroke="#231f20" stroke-width="1" />
<text x="346.00" y="307.96" font-size="7.5" text-anchor="end" stroke="#231f20" stroke-width="0.18" >100</text>
<line x1="349.00" y1="292.66" x2="351.60" y2="292.66" stroke="#231f20" stroke-width="1" />
<text x="346.00" y="295.34" font-size="7.5" text-anchor="end" stroke="#231f20" stroke-width="0.18" >200</text>
<line x1="349.00" y1="280.04" x2="351.60" y2="280.04" stroke="#231f20" stroke-width="1" />
<text x="346.00" y="282.72" font-size="7.5" text-anchor="end" stroke="#231f20" stroke-width="0.18" >300</text>
<line x1="349.00" y1="267.42" x2="351.60" y2="267.42" stroke="#231f20" stroke-width="1" />
<text x="346.00" y="270.10" font-size="7.5" text-anchor="end" stroke="#231f20" stroke-width="0.18" >400</text>
<line x1="349.00" y1="254.80" x2="351.60" y2="254.80" stroke="#231f20" stroke-width="1" />
<text x="346.00" y="257.48" font-size="7.5" text-anchor="end" stroke="#231f20" stroke-width="0.18" >500</text>
<line x1="351.10" y1="317.90" x2="443.50" y2="317.90" stroke="#231f20" stroke-width="1.15" />
<line x1="351.60" y1="317.90" x2="351.60" y2="320.90" stroke="#231f20" stroke-width="1" />
<text x="351.60" y="331.38" font-size="7.5" text-anchor="middle" stroke="#231f20" stroke-width="0.18" >0</text>
<line x1="373.55" y1="317.90" x2="373.55" y2="320.90" stroke="#231f20" stroke-width="1" />
<text x="373.55" y="331.38" font-size="7.5" text-anchor="middle" stroke="#231f20" stroke-width="0.18" >20</text>
<line x1="395.50" y1="317.90" x2="395.50" y2="320.90" stroke="#231f20" stroke-width="1" />
<text x="395.50" y="331.38" font-size="7.5" text-anchor="middle" stroke="#231f20" stroke-width="0.18" >40</text>
<line x1="417.45" y1="317.90" x2="417.45" y2="320.90" stroke="#231f20" stroke-width="1" />
<text x="417.45" y="331.38" font-size="7.5" text-anchor="middle" stroke="#231f20" stroke-width="0.18" >60</text>
<line x1="439.40" y1="317.90" x2="439.40" y2="320.90" stroke="#231f20" stroke-width="1" />
<text x="439.40" y="331.38" font-size="7.5" text-anchor="middle" stroke="#231f20" stroke-width="0.18" >80</text>
<text x="375.70" y="343.24" font-size="8.69" textLength="43.30" lengthAdjust="spacingAndGlyphs" stroke="#231f20" stroke-width="0.32" >Time (minutes)</text>
<text x="323.50" y="287.57" font-size="9.4" text-anchor="middle" textLength="46.50" lengthAdjust="spacingAndGlyphs" stroke="#231f20" stroke-width="0.18" transform="rotate(-90 323.50 284.20)">OCR (pmol/min)</text>
<line x1="353.03" y1="285.50" x2="353.03" y2="287.50" stroke="#f4a030" stroke-width="1.6"/>
<line x1="360.16" y1="287.70" x2="360.16" y2="289.70" stroke="#f4a030" stroke-width="1.6"/>
<line x1="367.29" y1="288.00" x2="367.29" y2="290.00" stroke="#f4a030" stroke-width="1.6"/>
<line x1="395.83" y1="273.40" x2="395.83" y2="276.40" stroke="#f4a030" stroke-width="1.6"/>
<line x1="402.96" y1="266.00" x2="402.96" y2="269.00" stroke="#f4a030" stroke-width="1.6"/>
<line x1="410.10" y1="263.25" x2="410.10" y2="266.25" stroke="#f4a030" stroke-width="1.6"/>
<polyline points="353.03,286.50 360.16,288.70 367.29,289.00 374.43,308.75 381.56,308.75 388.70,308.75 395.83,274.90 402.96,267.50 410.10,264.75 417.23,315.00 424.36,315.00 431.50,315.00" fill="none" stroke="#f4a030" stroke-width="1.1" stroke-linejoin="round"/>
<rect x="351.88" y="285.35" width="2.30" height="2.30" fill="#f4a030"/>
<rect x="359.01" y="287.55" width="2.30" height="2.30" fill="#f4a030"/>
<rect x="366.14" y="287.85" width="2.30" height="2.30" fill="#f4a030"/>
<rect x="373.28" y="307.60" width="2.30" height="2.30" fill="#f4a030"/>
<rect x="380.41" y="307.60" width="2.30" height="2.30" fill="#f4a030"/>
<rect x="387.55" y="307.60" width="2.30" height="2.30" fill="#f4a030"/>
<rect x="394.68" y="273.75" width="2.30" height="2.30" fill="#f4a030"/>
<rect x="401.81" y="266.35" width="2.30" height="2.30" fill="#f4a030"/>
<rect x="408.95" y="263.60" width="2.30" height="2.30" fill="#f4a030"/>
<rect x="416.08" y="313.85" width="2.30" height="2.30" fill="#f4a030"/>
<rect x="423.21" y="313.85" width="2.30" height="2.30" fill="#f4a030"/>
<rect x="430.35" y="313.85" width="2.30" height="2.30" fill="#f4a030"/>
<polyline points="353.03,293.50 360.16,295.00 367.29,295.40 374.43,310.90 381.56,310.90 388.70,310.90 395.83,283.40 402.96,274.90 410.10,273.80 417.23,315.50 424.36,315.50 431.50,315.50" fill="none" stroke="#2aa9df" stroke-width="1.1" stroke-linejoin="round"/>
<rect x="351.88" y="292.35" width="2.30" height="2.30" fill="#2aa9df"/>
<rect x="359.01" y="293.85" width="2.30" height="2.30" fill="#2aa9df"/>
<rect x="366.14" y="294.25" width="2.30" height="2.30" fill="#2aa9df"/>
<rect x="373.28" y="309.75" width="2.30" height="2.30" fill="#2aa9df"/>
<rect x="380.41" y="309.75" width="2.30" height="2.30" fill="#2aa9df"/>
<rect x="387.55" y="309.75" width="2.30" height="2.30" fill="#2aa9df"/>
<rect x="394.68" y="282.25" width="2.30" height="2.30" fill="#2aa9df"/>
<rect x="401.81" y="273.75" width="2.30" height="2.30" fill="#2aa9df"/>
<rect x="408.95" y="272.65" width="2.30" height="2.30" fill="#2aa9df"/>
<rect x="416.08" y="314.35" width="2.30" height="2.30" fill="#2aa9df"/>
<rect x="423.21" y="314.35" width="2.30" height="2.30" fill="#2aa9df"/>
<rect x="430.35" y="314.35" width="2.30" height="2.30" fill="#2aa9df"/>
<polyline points="353.03,301.30 360.16,302.40 367.29,302.80 374.43,313.40 381.56,313.40 388.70,313.40 395.83,285.90 402.96,283.40 410.10,283.40 417.23,316.60 424.36,316.60 431.50,316.60" fill="none" stroke="#e2197b" stroke-width="1.1" stroke-linejoin="round"/>
<rect x="351.88" y="300.15" width="2.30" height="2.30" fill="#e2197b"/>
<rect x="359.01" y="301.25" width="2.30" height="2.30" fill="#e2197b"/>
<rect x="366.14" y="301.65" width="2.30" height="2.30" fill="#e2197b"/>
<rect x="373.28" y="312.25" width="2.30" height="2.30" fill="#e2197b"/>
<rect x="380.41" y="312.25" width="2.30" height="2.30" fill="#e2197b"/>
<rect x="387.55" y="312.25" width="2.30" height="2.30" fill="#e2197b"/>
<rect x="394.68" y="284.75" width="2.30" height="2.30" fill="#e2197b"/>
<rect x="401.81" y="282.25" width="2.30" height="2.30" fill="#e2197b"/>
<rect x="408.95" y="282.25" width="2.30" height="2.30" fill="#e2197b"/>
<rect x="416.08" y="315.45" width="2.30" height="2.30" fill="#e2197b"/>
<rect x="423.21" y="315.45" width="2.30" height="2.30" fill="#e2197b"/>
<rect x="430.35" y="315.45" width="2.30" height="2.30" fill="#e2197b"/>
<text x="354.80" y="275.59" font-size="7.8" font-weight="bold" text-anchor="middle" fill="#3c3c3c" stroke="#3c3c3c" stroke-width="0.6">#</text>
<text x="362.20" y="278.79" font-size="7.8" font-weight="bold" text-anchor="middle" fill="#3c3c3c" stroke="#3c3c3c" stroke-width="0.6">#</text>
<text x="369.00" y="278.79" font-size="7.8" font-weight="bold" text-anchor="middle" fill="#3c3c3c" stroke="#3c3c3c" stroke-width="0.6">#</text>
<circle cx="354.00" cy="280.80" r="1.0" fill="#333"/>
<circle cx="361.00" cy="283.40" r="1.0" fill="#333"/>
<circle cx="368.00" cy="283.40" r="1.0" fill="#333"/>
<text x="377.00" y="298.79" font-size="7.8" font-weight="bold" text-anchor="middle" fill="#3c3c3c" stroke="#3c3c3c" stroke-width="0.6">#</text>
<text x="382.70" y="298.79" font-size="7.8" font-weight="bold" text-anchor="middle" fill="#3c3c3c" stroke="#3c3c3c" stroke-width="0.6">#</text>
<text x="388.20" y="298.79" font-size="7.8" font-weight="bold" text-anchor="middle" fill="#3c3c3c" stroke="#3c3c3c" stroke-width="0.6">#</text>
<circle cx="375.00" cy="302.80" r="1.0" fill="#333"/>
<circle cx="382.00" cy="302.80" r="1.0" fill="#333"/>
<circle cx="389.00" cy="302.80" r="1.0" fill="#333"/>
<text x="396.00" y="264.39" font-size="7.8" font-weight="bold" text-anchor="middle" fill="#3c3c3c" stroke="#3c3c3c" stroke-width="0.6">#</text>
<text x="403.00" y="258.69" font-size="7.8" font-weight="bold" text-anchor="middle" fill="#3c3c3c" stroke="#3c3c3c" stroke-width="0.6">#</text>
<text x="409.80" y="257.99" font-size="7.8" font-weight="bold" text-anchor="middle" fill="#3c3c3c" stroke="#3c3c3c" stroke-width="0.6">#</text>
<circle cx="396.00" cy="269.60" r="1.0" fill="#333"/>
<circle cx="403.00" cy="262.20" r="1.0" fill="#333"/>
<circle cx="410.00" cy="260.70" r="1.0" fill="#333"/>
<circle cx="418.00" cy="308.10" r="1.0" fill="#333"/>
<circle cx="425.00" cy="308.10" r="1.0" fill="#333"/>
<circle cx="432.00" cy="308.10" r="1.0" fill="#333"/>
<line x1="345.40" y1="355.60" x2="354.00" y2="355.60" stroke="#f7941d" stroke-width="1" />
<circle cx="349.70" cy="355.60" r="0.9" fill="#f7941d"/>
<text x="357.00" y="357.91" font-size="7.3" textLength="11.50" lengthAdjust="spacingAndGlyphs" stroke="#231f20" stroke-width="0.18" >WT</text>
<line x1="374.80" y1="355.60" x2="383.50" y2="355.60" stroke="#2aa9df" stroke-width="1" />
<circle cx="379.10" cy="355.60" r="0.9" fill="#2aa9df"/>
<text x="387.00" y="357.91" font-size="7.3" textLength="22.40" lengthAdjust="spacingAndGlyphs" stroke="#231f20" stroke-width="0.18" >aPC 1x</text>
<line x1="415.00" y1="355.60" x2="424.00" y2="355.60" stroke="#e2197b" stroke-width="1" />
<circle cx="419.50" cy="355.60" r="0.9" fill="#e2197b"/>
<text x="427.30" y="357.91" font-size="7.3" textLength="22.50" lengthAdjust="spacingAndGlyphs" stroke="#231f20" stroke-width="0.18" >aPC 3x</text>
<text x="58.50" y="380.72" font-size="10.4" font-weight="bold" stroke="#231f20" stroke-width="0.45" >G</text>
<rect x="75.50" y="400.5" width="77.00" height="77" fill="none" stroke="#9a9a9a" stroke-width="0.9"/>
<text x="116.00" y="399.19" font-size="7.5" text-anchor="middle" stroke="#231f20" stroke-width="0.18" >WT</text>
<text x="97.00" y="413.96" font-size="7.7" stroke="#231f20" stroke-width="0.18" >8.86</text>
<ellipse cx="129.00" cy="435.60" rx="3.70" ry="4.40" fill="#e2e2e2" stroke="#a0a0a0" stroke-width="1.5"/>
<ellipse cx="125.80" cy="446.00" rx="4" ry="5.5" fill="#d4d4d4"/>
<path d="M129.00,440.00 C138.11,440.00 134.61,461.30 129.00,461.30 C123.39,461.30 119.89,440.00 129.00,440.00 Z" fill="#d2d2d2"/>
<path d="M129.30,441.24 C136.59,441.24 133.79,459.26 129.30,459.26 C124.81,459.26 122.01,441.24 129.30,441.24 Z" fill="#b0b0b0"/>
<path d="M129.60,442.67 C135.06,442.67 132.97,457.41 129.60,457.41 C126.23,457.41 124.14,442.67 129.60,442.67 Z" fill="#8c8c8c"/>
<path d="M129.80,443.92 C133.63,443.92 132.16,455.71 129.80,455.71 C127.44,455.71 125.97,443.92 129.80,443.92 Z" fill="#666"/>
<path d="M129.70,445.35 C131.52,445.35 130.82,453.53 129.70,453.53 C128.58,453.53 127.88,445.35 129.70,445.35 Z" fill="#8a8a8a"/>
<path d="M126.40,477.3 A2.6,2.2 0 0 1 131.60,477.3" fill="none" stroke="#555" stroke-width="1.3"/>
<rect x="115.50" y="409.7" width="31.00" height="29.3" fill="none" stroke="#3a3a3a" stroke-width="0.9"/>
<rect x="155.60" y="400.5" width="75.90" height="77" fill="none" stroke="#9a9a9a" stroke-width="0.9"/>
<text x="191.00" y="399.19" font-size="7.5" text-anchor="middle" stroke="#231f20" stroke-width="0.18" >aPC 1x</text>
<text x="177.00" y="413.96" font-size="7.7" stroke="#231f20" stroke-width="0.18" >12.6</text>
<ellipse cx="207.40" cy="432.50" rx="4.00" ry="5.20" fill="#c4c4c4"/>
<ellipse cx="207.40" cy="432.50" rx="2.88" ry="3.74" fill="#adadad"/>
<ellipse cx="207.40" cy="432.80" rx="1.40" ry="1.82" fill="#d0d0d0"/>
<ellipse cx="204.20" cy="446.00" rx="4" ry="5.5" fill="#d4d4d4"/>
<path d="M207.40,440.00 C215.96,440.00 212.67,459.50 207.40,459.50 C202.13,459.50 198.84,440.00 207.40,440.00 Z" fill="#d2d2d2"/>
<path d="M207.70,441.16 C214.54,441.16 211.92,457.66 207.70,457.66 C203.48,457.66 200.86,441.16 207.70,441.16 Z" fill="#b0b0b0"/>
<path d="M208.00,442.52 C213.13,442.52 211.16,456.01 208.00,456.01 C204.84,456.01 202.87,442.52 208.00,442.52 Z" fill="#8c8c8c"/>
<path d="M208.20,443.69 C211.79,443.69 210.41,454.48 208.20,454.48 C205.99,454.48 204.61,443.69 208.20,443.69 Z" fill="#666"/>
<path d="M208.10,445.03 C209.81,445.03 209.15,452.52 208.10,452.52 C207.05,452.52 206.39,445.03 208.10,445.03 Z" fill="#8a8a8a"/>
<path d="M204.80,477.3 A2.6,2.2 0 0 1 210.00,477.3" fill="none" stroke="#555" stroke-width="1.3"/>
<rect x="194.60" y="409.7" width="30.80" height="29.3" fill="none" stroke="#3a3a3a" stroke-width="0.9"/>
<rect x="234.50" y="400.5" width="76.70" height="77" fill="none" stroke="#9a9a9a" stroke-width="0.9"/>
<text x="270.50" y="399.19" font-size="7.5" text-anchor="middle" stroke="#231f20" stroke-width="0.18" >aPC 3x</text>
<text x="256.20" y="413.96" font-size="7.7" stroke="#231f20" stroke-width="0.18" >19.7</text>
<ellipse cx="287.50" cy="431.20" rx="5.60" ry="6.20" fill="#c4c4c4"/>
<ellipse cx="287.50" cy="431.20" rx="4.03" ry="4.46" fill="#adadad"/>
<ellipse cx="287.50" cy="431.50" rx="1.96" ry="2.17" fill="#d0d0d0"/>
<ellipse cx="284.30" cy="445.50" rx="4" ry="5.5" fill="#d4d4d4"/>
<path d="M287.50,439.50 C296.06,439.50 292.77,457.20 287.50,457.20 C282.23,457.20 278.94,439.50 287.50,439.50 Z" fill="#d2d2d2"/>
<path d="M287.80,440.58 C294.64,440.58 292.02,455.55 287.80,455.55 C283.58,455.55 280.96,440.58 287.80,440.58 Z" fill="#b0b0b0"/>
<path d="M288.10,441.86 C293.23,441.86 291.26,454.11 288.10,454.11 C284.94,454.11 282.97,441.86 288.10,441.86 Z" fill="#8c8c8c"/>
<path d="M288.30,442.96 C291.89,442.96 290.51,452.75 288.30,452.75 C286.09,452.75 284.71,442.96 288.30,442.96 Z" fill="#666"/>
<path d="M288.20,444.22 C289.91,444.22 289.25,451.01 288.20,451.01 C287.15,451.01 286.49,444.22 288.20,444.22 Z" fill="#8a8a8a"/>
<ellipse cx="287.50" cy="476.6" rx="2.2" ry="1.2" fill="#c8c8c8"/>
<rect x="273.80" y="409.7" width="31.70" height="29.3" fill="none" stroke="#3a3a3a" stroke-width="0.9"/>
<line x1="72.60" y1="476.50" x2="72.60" y2="404.00" stroke="#231f20" stroke-width="1" />
<path d="M70.6,405 L74.6,405 L72.6,399.5 Z" fill="#231f20"/>
<line x1="77.00" y1="482.20" x2="308.00" y2="482.20" stroke="#231f20" stroke-width="1" />
<path d="M307.5,480.2 L307.5,484.2 L313,482.2 Z" fill="#231f20"/>
<text x="65.30" y="442.51" font-size="8.4" text-anchor="middle" textLength="19.00" lengthAdjust="spacingAndGlyphs" stroke="#231f20" stroke-width="0.4" transform="rotate(-90 65.30 439.50)">FOXP3</text>
<text x="188.00" y="491.61" font-size="8.4" textLength="11.80" lengthAdjust="spacingAndGlyphs" stroke="#231f20" stroke-width="0.4" >CD4</text>
<line x1="351.00" y1="394.50" x2="351.00" y2="477.80" stroke="#231f20" stroke-width="1.15" />
<line x1="348.40" y1="477.30" x2="351.00" y2="477.30" stroke="#231f20" stroke-width="1" />
<text x="345.50" y="479.99" font-size="7.5" text-anchor="end" stroke="#231f20" stroke-width="0.18" >0</text>
<line x1="348.40" y1="461.44" x2="351.00" y2="461.44" stroke="#231f20" stroke-width="1" />
<text x="345.50" y="464.12" font-size="7.5" text-anchor="end" stroke="#231f20" stroke-width="0.18" >5</text>
<line x1="348.40" y1="445.58" x2="351.00" y2="445.58" stroke="#231f20" stroke-width="1" />
<text x="345.50" y="448.26" font-size="7.5" text-anchor="end" stroke="#231f20" stroke-width="0.18" >10</text>
<line x1="348.40" y1="429.72" x2="351.00" y2="429.72" stroke="#231f20" stroke-width="1" />
<text x="345.50" y="432.41" font-size="7.5" text-anchor="end" stroke="#231f20" stroke-width="0.18" >15</text>
<line x1="348.40" y1="413.86" x2="351.00" y2="413.86" stroke="#231f20" stroke-width="1" />
<text x="345.50" y="416.55" font-size="7.5" text-anchor="end" stroke="#231f20" stroke-width="0.18" >20</text>
<line x1="348.40" y1="398.00" x2="351.00" y2="398.00" stroke="#231f20" stroke-width="1" />
<text x="345.50" y="400.69" font-size="7.5" text-anchor="end" stroke="#231f20" stroke-width="0.18" >25</text>
<line x1="348.80" y1="477.10" x2="406.80" y2="477.10" stroke="#231f20" stroke-width="1.15" />
<text x="327.90" y="439.44" font-size="8.2" text-anchor="middle" textLength="51.50" lengthAdjust="spacingAndGlyphs" stroke="#231f20" stroke-width="0.18" transform="rotate(-90 327.90 436.50)">% of CD4<tspan dy="-2.5" font-size="5">+</tspan><tspan dy="2.5">FOXP3</tspan><tspan dy="-2.5" font-size="5">+</tspan></text>
<rect x="357.50" y="448.50" width="9.30" height="28.60" fill="#f7941d"/>
<rect x="373.80" y="437.70" width="9.20" height="39.40" fill="#2aa9df"/>
<rect x="390.00" y="427.00" width="9.40" height="50.10" fill="#e2197b"/>
<circle cx="358.50" cy="445.40" r="2.25" fill="#fff" stroke="#231f20" stroke-width="0.95"/>
<circle cx="362.50" cy="442.30" r="2.25" fill="#fff" stroke="#231f20" stroke-width="0.95"/>
<circle cx="366.20" cy="445.40" r="2.25" fill="#fff" stroke="#231f20" stroke-width="0.95"/>
<circle cx="362.50" cy="449.00" r="2.25" fill="#fff" stroke="#231f20" stroke-width="0.95"/>
<circle cx="363.00" cy="456.80" r="2.25" fill="#fff" stroke="#231f20" stroke-width="0.95"/>
<circle cx="375.00" cy="434.00" r="2.25" fill="#fff" stroke="#231f20" stroke-width="0.95"/>
<circle cx="378.50" cy="427.80" r="2.25" fill="#fff" stroke="#231f20" stroke-width="0.95"/>
<circle cx="381.80" cy="437.00" r="2.25" fill="#fff" stroke="#231f20" stroke-width="0.95"/>
<circle cx="378.20" cy="440.50" r="2.25" fill="#fff" stroke="#231f20" stroke-width="0.95"/>
<circle cx="378.80" cy="444.00" r="2.25" fill="#fff" stroke="#231f20" stroke-width="0.95"/>
<circle cx="394.50" cy="415.50" r="2.25" fill="#fff" stroke="#231f20" stroke-width="0.95"/>
<circle cx="391.60" cy="422.30" r="2.25" fill="#fff" stroke="#231f20" stroke-width="0.95"/>
<circle cx="396.00" cy="421.50" r="2.25" fill="#fff" stroke="#231f20" stroke-width="0.95"/>
<circle cx="397.60" cy="425.40" r="2.25" fill="#fff" stroke="#231f20" stroke-width="0.95"/>
<circle cx="394.80" cy="436.20" r="2.25" fill="#fff" stroke="#231f20" stroke-width="0.95"/>
<text x="369.80" y="392.69" font-size="7.5" text-anchor="middle" stroke="#231f20" stroke-width="0.18" >*</text>
<line x1="362.50" y1="393.00" x2="378.50" y2="393.00" stroke="#231f20" stroke-width="0.9" />
<text x="378.50" y="408.19" font-size="7.5" text-anchor="middle" stroke="#231f20" stroke-width="0.18" >***</text>
<line x1="363.00" y1="408.50" x2="394.80" y2="408.50" stroke="#231f20" stroke-width="0.9" />
<rect x="411.70" y="425.40" width="8.30" height="5.60" fill="#f7941d"/>
<text x="423.00" y="430.81" font-size="7.3" stroke="#231f20" stroke-width="0.18" >WT</text>
<rect x="411.70" y="434.60" width="8.30" height="5.50" fill="#2aa9df"/>
<text x="423.00" y="439.91" font-size="7.3" textLength="21.60" lengthAdjust="spacingAndGlyphs" stroke="#231f20" stroke-width="0.18" >aPC 1x</text>
<rect x="411.70" y="443.80" width="8.30" height="5.60" fill="#e2197b"/>
<text x="423.00" y="449.21" font-size="7.3" textLength="21.60" lengthAdjust="spacingAndGlyphs" stroke="#231f20" stroke-width="0.18" >aPC 3x</text>
<rect x="0.5" y="0.5" width="519" height="507" fill="none" stroke="#5a5a5a" stroke-width="1"/>
</svg>
</body></html>
